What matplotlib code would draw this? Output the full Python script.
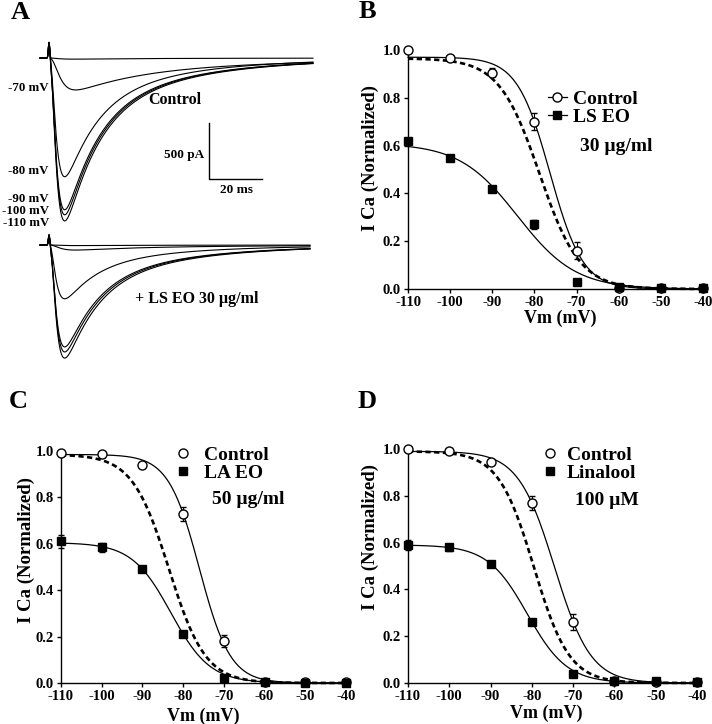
import numpy as np
import matplotlib
matplotlib.use('Agg')
import matplotlib.pyplot as plt
from matplotlib.lines import Line2D

plt.rcParams['font.family'] = ['Liberation Serif', 'DejaVu Serif']
plt.rcParams['font.weight'] = 'bold'
plt.rcParams['axes.unicode_minus'] = False

# ---- panel A: current traces (peak amplitudes, pA)
trace_vm = [-60, -70, -80, -90, -100, -110]
peak_control = [10, 285, 1060, 1355, 1400, 1455]
peak_lseo = [5, 45, 480, 910, 955, 1010]
tau_act = [2.6, 2.8, 1.8, 1.8, 1.8, 1.8]
tau_inact = [25, 26, 12, 12, 12, 12]

# ---- panels B-D: steady-state inactivation, normalized I Ca
vm = [-110, -100, -90, -80, -70, -60, -50, -40]

b_ctrl = [1.0, 0.965, 0.905, 0.70, 0.16, 0.005, 0.003, 0.003]
b_ctrl_err = [0, 0, 0.02, 0.035, 0.035, 0, 0, 0]
b_drug = [0.62, 0.55, 0.42, 0.27, 0.03, 0.008, 0.003, 0.003]
b_drug_err = [0, 0, 0, 0.02, 0, 0, 0, 0]

c_ctrl = [0.99, 0.985, 0.94, 0.73, 0.18, 0.005, 0.003, 0.003]
c_ctrl_err = [0, 0, 0, 0.03, 0.025, 0, 0, 0]
c_drug = [0.61, 0.585, 0.49, 0.21, 0.02, 0.005, 0.002, 0.002]
c_drug_err = [0.03, 0.02, 0, 0, 0, 0, 0, 0]

d_ctrl = [1.0, 0.99, 0.945, 0.77, 0.26, 0.01, 0.005, 0.005]
d_ctrl_err = [0, 0, 0, 0.03, 0.035, 0, 0, 0]
d_drug = [0.59, 0.58, 0.51, 0.26, 0.04, 0.01, 0.01, 0.005]
d_drug_err = [0.02, 0.015, 0, 0, 0, 0, 0, 0]

# Boltzmann fits: (max, V1/2, slope)
b_fits = [(0.97, -76.3, 3.9), (0.61, -84.0, 6.9), (0.965, -78.8, 4.8)]
c_fits = [(0.985, -76.0, 3.8), (0.605, -83.0, 4.8), (0.985, -83.5, 4.5)]
d_fits = [(0.99, -74.5, 4.4), (0.59, -81.1, 4.8), (0.99, -79.5, 4.3)]

W, H = 712, 724
fig = plt.figure(figsize=(W / 100, H / 100), dpi=100)


def px_axes(l, t, r, b):
    return fig.add_axes([l / W, 1 - b / H, (r - l) / W, (b - t) / H])


def trace(t, amp, tm, th, art):
    tt = np.clip(t, 0, None)
    g = (1 - np.exp(-tt / tm)) ** 3 * (0.75 * np.exp(-tt / th) + 0.25 * np.exp(-tt / (3.3 * th)))
    g = g / g.max()
    return -amp * g + art * np.exp(-(t / 0.35) ** 2)


# panel A
axA = px_axes(0, 25, 345, 370)
axA.set_xlim(-18.5, 111.7)
axA.set_ylim(-2786, 295)
axA.axis('off')
t1 = np.linspace(-3.4, 99.6, 2000)
for amp, tm, th in zip(peak_control, tau_act, tau_inact):
    axA.plot(t1, trace(t1, amp, tm, th, 140), color='black', lw=0.8)
t2 = np.linspace(-3.4, 98.5, 2000)
for amp, tm, th in zip(peak_lseo, tau_act, tau_inact):
    axA.plot(t2, trace(t2, amp, tm, th, 90) - 1670, color='black', lw=0.8)

axA.plot([60.4, 60.4, 80.4], [-580, -1080, -1080], color='black', lw=1)
axA.text(58.5, -866, '500 pA', ha='right', va='center', size=9.5)
axA.text(70.9, -1179, '20 ms', ha='center', va='center', size=9.5)
axA.text(47.5, -375, 'Control', ha='center', va='center', size=11.5)
axA.text(32.5, -2152, '+ LS EO 30 µg/ml', ha='left', va='center', size=11.5)
for v, y in zip(trace_vm[1:], [-268, -1009, -1259, -1366, -1473]):
    axA.text(-0.1, y, '%d mV' % v, ha='right', va='center', size=9.3)


def curve_panel(box, ctrl, ctrl_err, drug, drug_err, fits, names, conc,
                leg_xy, tpad, conc_xy, ylab_xy, xlab_xy, line_handles):
    ax = px_axes(*box)
    v = np.linspace(-110, -40, 300)
    for (a, vh, k), ls, lw in zip(fits, ['-', '-', '--'], [0.9, 0.9, 1.9]):
        ln, = ax.plot(v, a / (1 + np.exp((v - vh) / k)), color='black', lw=lw, ls=ls, clip_on=False)
        if ls == '--':
            ln.set_dashes((2.0, 1.3))
    ax.errorbar(vm, ctrl, yerr=ctrl_err, fmt='none', ecolor='black', elinewidth=0.8, capsize=2.5, clip_on=False)
    ax.errorbar(vm, drug, yerr=drug_err, fmt='none', ecolor='black', elinewidth=0.8, capsize=2.5, clip_on=False)
    ax.plot(vm, ctrl, 'o', mfc='white', mec='black', mew=1, ms=6.5, ls='none', clip_on=False, zorder=4)
    ax.plot(vm, drug, 's', color='black', ms=6.2, ls='none', clip_on=False, zorder=5)
    ax.set_xlim(-110, -40)
    ax.set_ylim(0, 1.0)
    ax.set_xticks(range(-110, -39, 10))
    ax.set_yticks(np.arange(0, 1.01, 0.2))
    ax.set_yticklabels(['%.1f' % y for y in np.arange(0, 1.01, 0.2)])
    for s in ['top', 'right']:
        ax.spines[s].set_visible(False)
    for s in ['left', 'bottom']:
        ax.spines[s].set_linewidth(1.0)
    ax.tick_params(direction='out', length=3, width=1, labelsize=10.5, pad=2)
    ls = '-' if line_handles else 'none'
    handles = [Line2D([], [], color='black', lw=0.9, ls=ls, marker='o', mfc='white', mec='black', ms=6.5),
               Line2D([], [], color='black', lw=0.9, ls=ls, marker='s', ms=6.2)]
    ax.legend(handles, names, loc='upper left', bbox_to_anchor=leg_xy, frameon=False, borderpad=0,
              borderaxespad=0, handlelength=1.0, handletextpad=tpad, labelspacing=0.0,
              prop={'size': 14, 'weight': 'bold'})
    ax.text(conc_xy[0], conc_xy[1], conc, transform=ax.transAxes, ha='left', va='center', size=14)
    ax.text(ylab_xy[0], ylab_xy[1], 'I Ca (Normalized)', transform=ax.transAxes, rotation=90,
            ha='center', va='center', size=13.5)
    ax.text(xlab_xy[0], xlab_xy[1], 'Vm (mV)', transform=ax.transAxes, ha='center', va='center', size=13)
    return ax


curve_panel((408, 50, 703, 289), b_ctrl, b_ctrl_err, b_drug, b_drug_err, b_fits,
            ['Control', 'LS EO'], '30 µg/ml', (0.473, 0.83), 0.3, (0.583, 0.598),
            (-0.129, 0.548), (0.515, -0.122), True)
curve_panel((61, 451, 346, 683), c_ctrl, c_ctrl_err, c_drug, c_drug_err, c_fits,
            ['Control', 'LA EO'], '50 µg/ml', (0.395, 1.02), 0.55, (0.53, 0.789),
            (-0.123, 0.573), (0.498, -0.142), False)
curve_panel((408, 449, 697, 683), d_ctrl, d_ctrl_err, d_drug, d_drug_err, d_fits,
            ['Control', 'Linalool'], '100 µM', (0.459, 1.01), 0.35, (0.578, 0.782),
            (-0.131, 0.624), (0.478, -0.128), False)

for letter, x, y in [('A', 20, 12.5), ('B', 367, 12), ('C', 18, 402), ('D', 367, 402)]:
    fig.text(x / W, 1 - y / H, letter, ha='center', va='center', size=19)

fig.savefig('out.png', dpi=100)
